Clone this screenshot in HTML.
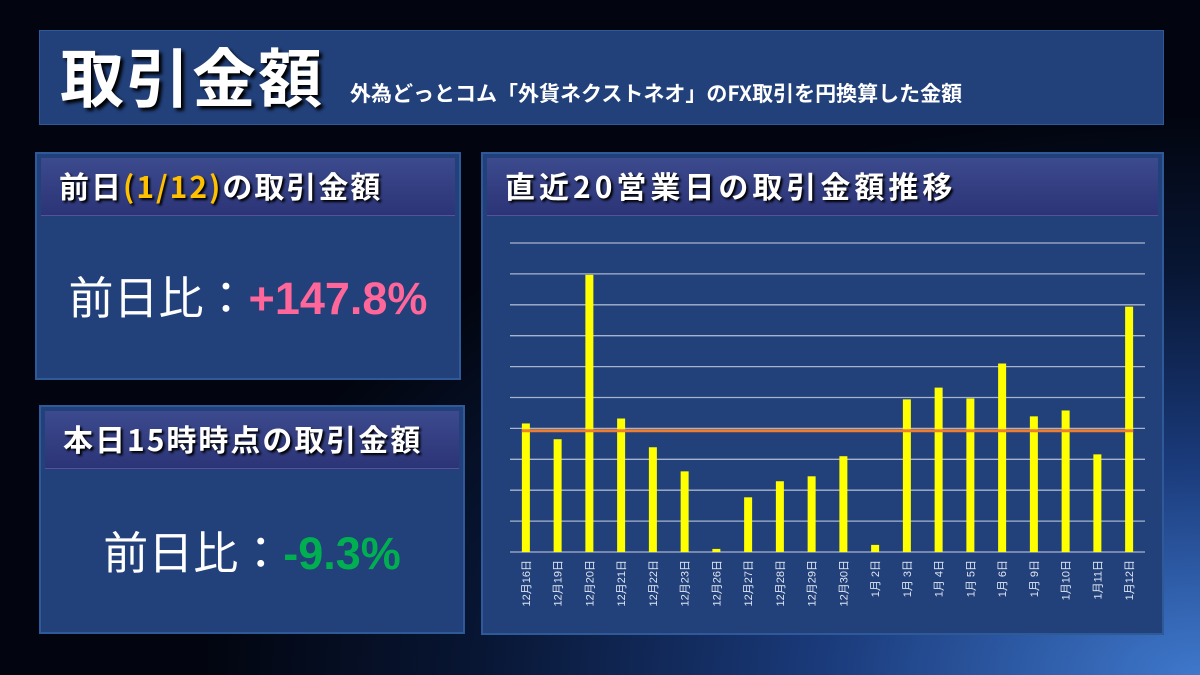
<!DOCTYPE html>
<html><head><meta charset="utf-8">
<style>
html,body{margin:0;padding:0}
body{width:1200px;height:675px;overflow:hidden;position:relative;
background:radial-gradient(ellipse 1000px 560px at 1200px 675px,#3f78cc 0%,#1a3a7a 38%,#081634 72%,#02050f 100%);
font-family:"Liberation Sans","Noto Sans CJK JP",sans-serif;color:#fff}
.box{position:absolute;background:#22407a;border:2px solid #2f5a9a;box-sizing:border-box}
.band{position:absolute;left:4px;right:4px;top:4px;height:58px;background:linear-gradient(#3c4a8e,#2b3476);border-bottom:1px solid #5a4f9a;box-sizing:border-box;font-weight:bold;font-size:30px;line-height:1;padding:12px 0 0 18px;letter-spacing:2px;text-shadow:2px 2px 2px #000;font-family:"Noto Sans CJK JP","Liberation Sans",sans-serif;white-space:nowrap}
.big{position:absolute;width:100%;text-align:center;font-size:45px;font-family:"Noto Sans CJK JP",sans-serif;line-height:1}
.num{font-family:"Liberation Sans",sans-serif;font-weight:bold;font-size:45px}
</style></head><body>
<div class="box" style="left:39px;top:30px;width:1125px;height:95px;border-width:1px">
  <span style="position:absolute;left:20px;top:6px;font-size:64px;line-height:1.2;font-weight:bold;letter-spacing:2px;text-shadow:3px 3px 3px #000;font-family:'Noto Sans CJK JP',sans-serif">取引金額</span>
  <span style="position:absolute;left:310px;top:50px;font-size:21px;line-height:1.2;font-weight:bold;font-family:'Noto Sans CJK JP',sans-serif">外為どっとコム「外貨ネクストネオ」のFX取引を円換算した金額</span>
</div>
<div class="box" style="left:35px;top:152px;width:426px;height:228px">
  <div class="band">前日<span style="color:#ffc000">(1/12)</span>の取引金額</div>
  <div class="big" style="top:118px">前日比：<span class="num" style="color:#ff6699">+147.8%</span></div>
</div>
<div class="box" style="left:39px;top:405px;width:426px;height:229px">
  <div class="band">本日15時時点の取引金額</div>
  <div class="big" style="top:120px">前日比：<span class="num" style="color:#00b050">-9.3%</span></div>
</div>
<div class="box" style="left:481px;top:152px;width:683px;height:483px">
  <div class="band" style="letter-spacing:4px">直近20営業日の取引金額推移</div>
</div>
<svg id="chart" width="1200" height="675" style="position:absolute;left:0;top:0"></svg>
<script>
const categories=["12月16日","12月19日","12月20日","12月21日","12月22日","12月23日","12月26日","12月27日","12月28日","12月29日","12月30日","1月 2日","1月 3日","1月 4日","1月 5日","1月 6日","1月 9日","1月10日","1月11日","1月12日"];
const values=[4.16,3.65,8.97,4.32,3.39,2.61,0.1,1.77,2.29,2.45,3.1,0.23,4.94,5.32,4.97,6.1,4.39,4.58,3.16,7.94];
const gridTicks=[0,1,2,3,4,5,6,7,8,9,10];
const yMax=10;
const svg=document.getElementById('chart');
const NS='http://www.w3.org/2000/svg';
const x0=510,x1=1145,y0=552,y1=243;
const band=(x1-x0)/categories.length;
const xPos=i=>x0+band*(i+0.5);
const yPos=v=>y0-(v/yMax)*(y0-y1);
function mk(t,a){const e=document.createElementNS(NS,t);for(const k in a)e.setAttribute(k,a[k]);svg.appendChild(e);return e;}
gridTicks.forEach(t=>{
  const l=mk('line',{x1:x0,x2:x1,y1:yPos(t),y2:yPos(t),stroke:'#a8b4cc','stroke-width':1.3});
  
  
});
values.forEach((v,i)=>{
  const r=mk('rect',{x:xPos(i)-4,y:yPos(v),width:8,height:y0-yPos(v),fill:'#ffff00'});
  
  
  const tx=mk('text',{transform:`translate(${xPos(i)+4},560) rotate(-90)`,'text-anchor':'end',fill:'#dfe6f2','font-size':11,'font-family':'"Liberation Sans","Noto Sans CJK JP",sans-serif'});
  tx.textContent=categories[i];
  
  
});
const mean=values.reduce((a,b)=>a+b,0)/values.length;
const ml=mk('line',{x1:xPos(0)-4,x2:xPos(values.length-1)+4,y1:yPos(mean),y2:yPos(mean),stroke:'#ed7d31','stroke-width':3});


</script>
</body></html>
